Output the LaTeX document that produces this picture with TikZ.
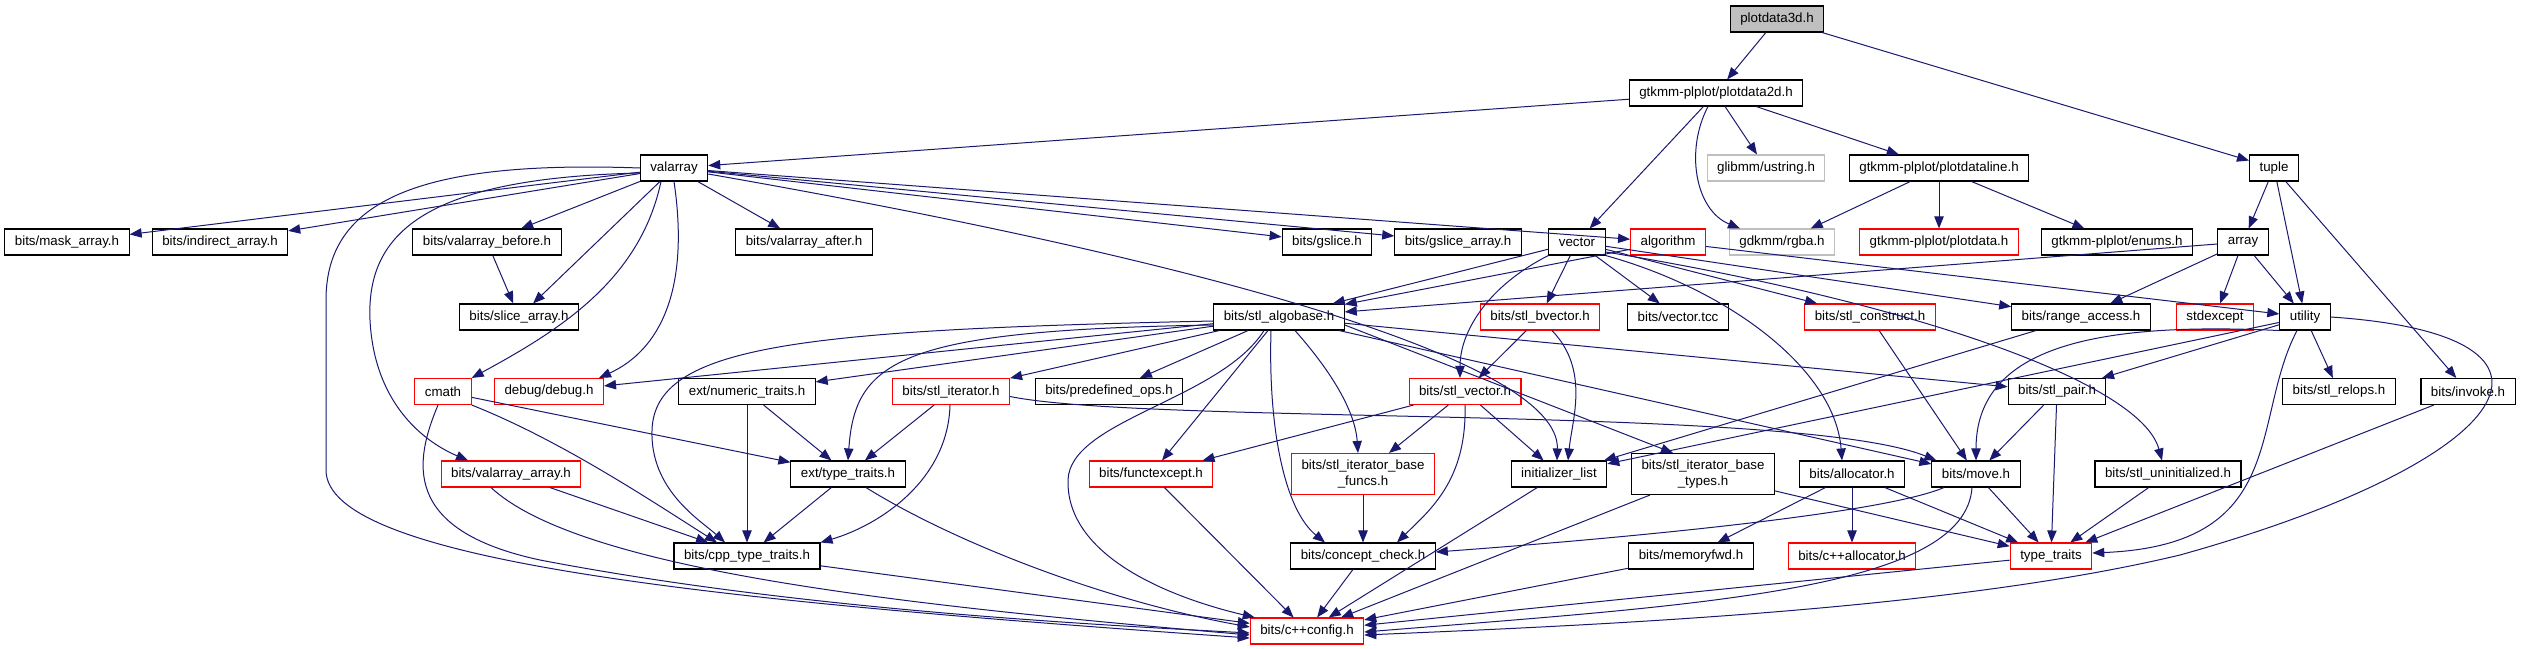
\documentclass[tikz,border=0pt]{standalone}
\usepackage{fontspec}
\setmainfont{Liberation Sans}
\usepackage{tikz}
\usetikzlibrary{arrows.meta}

\definecolor{edgeblue}{HTML}{191970}
\definecolor{nodegray}{HTML}{BFBFBF}

\begin{document}
\begin{tikzpicture}[
    x=0.75pt, y=-0.75pt,
    hdr/.style={rectangle, draw=black, fill=white, line width=0.8pt,
                font=\fontsize{10}{12}\selectfont,
                minimum height=19.5pt, inner xsep=7.5pt, inner ysep=2pt},
    trunc/.style={hdr, draw=red},
    nodoc/.style={hdr, draw=nodegray},
    root/.style={hdr, fill=nodegray},
    twoline/.style={align=center, minimum height=30.75pt},
    arr/.style={-{Triangle[length=9pt, width=7pt]}, draw=edgeblue, line width=0.75pt}
  ]
  \useasboundingbox[fill=white] (0,0) rectangle (2541,649);

  % rows, top to bottom
  \node[root]  (p3d)   at (1777,19)  {plotdata3d.h};
  \node[hdr]   (p2d)   at (1716,93)  {gtkmm-plplot/plotdata2d.h};

  \node[hdr]   (valarr) at (674,168)  {valarray};
  \node[nodoc] (ustr)   at (1766,168) {glibmm/ustring.h};
  \node[hdr]   (pline)  at (1939,168) {gtkmm-plplot/plotdataline.h};
  \node[hdr]   (tuple)  at (2274,168) {tuple};

  \node[hdr]   (mask)    at (67,242)   {bits/mask\_array.h};
  \node[hdr]   (indir)   at (220,242)  {bits/indirect\_array.h};
  \node[hdr]   (vbefore) at (487,242)  {bits/valarray\_before.h};
  \node[hdr]   (vafter)  at (804,242)  {bits/valarray\_after.h};
  \node[hdr]   (gslice)  at (1327,242) {bits/gslice.h};
  \node[hdr]   (gslarr)  at (1458,242) {bits/gslice\_array.h};
  \node[hdr]   (vector)  at (1577,242) {vector};
  \node[trunc] (algo)    at (1668,242) {algorithm};
  \node[nodoc] (rgba)    at (1782,242) {gdkmm/rgba.h};
  \node[trunc] (pdata)   at (1939,242) {gtkmm-plplot/plotdata.h};
  \node[hdr]   (enums)   at (2117,242) {gtkmm-plplot/enums.h};
  \node[hdr]   (array)   at (2243,242) {array};

  \node[hdr]   (slice)     at (519,317)  {bits/slice\_array.h};
  \node[hdr]   (algobase)  at (1279,317) {bits/stl\_algobase.h};
  \node[trunc] (bvector)   at (1540,317) {bits/stl\_bvector.h};
  \node[hdr]   (vtcc)      at (1678,317) {bits/vector.tcc};
  \node[trunc] (construct) at (1870,317) {bits/stl\_construct.h};
  \node[hdr]   (range)     at (2081,317) {bits/range\_access.h};
  \node[trunc] (stdexc)    at (2215,317) {stdexcept};
  \node[hdr]   (utility)   at (2305,317) {utility};

  \node[trunc] (cmath)  at (443,391.5)  {cmath};
  \node[trunc] (debug)  at (549,391.5)  {debug/debug.h};
  \node[hdr]   (numtr)  at (747,391.5)  {ext/numeric\_traits.h};
  \node[trunc] (iter)   at (951,391.5)  {bits/stl\_iterator.h};
  \node[hdr]   (predef) at (1109,391.5) {bits/predefined\_ops.h};
  \node[trunc] (svec)   at (1465,391.5) {bits/stl\_vector.h};
  \node[hdr]   (pair)   at (2057,391.5) {bits/stl\_pair.h};
  \node[hdr]   (relops) at (2339,391.5) {bits/stl\_relops.h};
  \node[hdr]   (invoke) at (2468,391.5) {bits/invoke.h};

  \node[trunc] (varr)    at (511,474)  {bits/valarray\_array.h};
  \node[hdr]   (exttt)   at (848,474)  {ext/type\_traits.h};
  \node[trunc] (fexc)    at (1151,474) {bits/functexcept.h};
  \node[trunc, twoline] (ibfuncs) at (1363,474) {bits/stl\_iterator\_base\\\_funcs.h};
  \node[hdr]   (initl)   at (1559,474) {initializer\_list};
  \node[hdr, twoline]   (ibtypes) at (1703,474) {bits/stl\_iterator\_base\\\_types.h};
  \node[hdr]   (alloc)   at (1852,474) {bits/allocator.h};
  \node[hdr]   (move)    at (1976,474) {bits/move.h};
  \node[hdr]   (uninit)  at (2168,474) {bits/stl\_uninitialized.h};

  \node[hdr]   (cpptt)   at (747,556)  {bits/cpp\_type\_traits.h};
  \node[hdr]   (ccheck)  at (1363,556) {bits/concept\_check.h};
  \node[hdr]   (mfwd)    at (1691,556) {bits/memoryfwd.h};
  \node[trunc] (callo)   at (1852,556) {bits/c++allocator.h};
  \node[trunc] (ttraits) at (2051,556) {type\_traits};

  \node[trunc] (config)  at (1307,631) {bits/c++config.h};

  % straight includes
  \foreach \a/\b in {p3d/p2d, p3d/tuple, p2d/valarr, p2d/vector, p2d/ustr, p2d/pline,
      pline/rgba, pline/pdata, pline/enums, tuple/array, tuple/utility, tuple/invoke,
      array/utility, array/stdexc, array/range, array/algobase,
      valarr/mask, valarr/indir, valarr/vbefore, valarr/slice, valarr/vafter,
      valarr/gslice, valarr/gslarr, valarr/algo, vbefore/slice,
      vector/algobase, vector/bvector, vector/vtcc, vector/construct, vector/range,
      algo/algobase, algo/utility, bvector/svec, construct/move, range/initl,
      utility/relops, utility/pair, utility/initl, invoke/ttraits,
      pair/move, pair/ttraits, uninit/ttraits, move/ttraits,
      alloc/callo, alloc/ttraits, alloc/mfwd, mfwd/config,
      ibtypes/config, ibtypes/ttraits, initl/config, ccheck/config, ibfuncs/ccheck,
      fexc/config, svec/fexc, svec/ibfuncs, svec/initl,
      algobase/fexc, algobase/move, algobase/pair, algobase/debug, algobase/numtr,
      algobase/iter, algobase/predef, numtr/exttt, numtr/cpptt, iter/exttt,
      cmath/exttt, varr/cpptt, exttt/cpptt, cpptt/config, ttraits/config}
    \draw[arr] (\a) -- (\b);

  % bent includes
  \draw[arr] ([shift={(-8,0)}]p2d.south) .. controls (1685,150) and (1695,210) .. ([shift={(-42,0)}]rgba.north);
  \draw[arr] (vector.south east) .. controls (1730,290) and (1835,370) .. ([shift={(-10,0)}]alloc.north);
  \draw[arr] ([shift={(0,10)}]vector.east) .. controls (1900,300) and (2140,380) .. ([shift={(-6,0)}]uninit.north);
  \draw[arr] (vector.south west) .. controls (1490,285) and (1460,330) .. ([shift={(-5,0)}]svec.north);
  \draw[arr] ([shift={(12,0)}]bvector.south) .. controls (1590,370) and (1572,420) .. ([shift={(9,0)}]initl.north);
  \draw[arr] (utility.south west) .. controls (2100,322) and (1976,345) .. (move.north);
  \draw[arr] ([shift={(-8,0)}]utility.south) .. controls (2250,420) and (2290,545) .. ([shift={(0,-3)}]ttraits.east);
  \draw[arr] (utility.east) .. controls (2600,335) and (2520,460) .. (2180,555)
             .. controls (1950,610) and (1600,625) .. ([shift={(0,4)}]config.east);
  \draw[arr] ([shift={(-4,0)}]move.south) .. controls (1965,590) and (1700,605) .. ([shift={(0,1)}]config.east);
  \draw[arr] ([shift={(-32,0)}]move.south) .. controls (1880,515) and (1600,540) .. ([shift={(0,-4)}]ccheck.east);
  \draw[arr] (svec.south) .. controls (1467,480) and (1430,510) .. ([shift={(34,0)}]ccheck.north);
  \draw[arr] ([shift={(-15,0)}]algobase.south) .. controls (1220,400) and (1070,420) .. (1068,480)
             .. controls (1066,560) and (1180,600) .. ([shift={(5,0)}]config.north west);
  \draw[arr] ([shift={(16,0)}]algobase.south) .. controls (1330,370) and (1355,410) .. ([shift={(-5,0)}]ibfuncs.north);
  \draw[arr] ([shift={(0,8)}]algobase.west) .. controls (900,330) and (855,360) .. (exttt.north);
  \draw[arr] ([shift={(0,4)}]algobase.west) .. controls (800,330) and (655,345) .. (652,430)
             .. controls (650,490) and (700,520) .. ([shift={(-22,0)}]cpptt.north);
  \draw[arr] ([shift={(-8,0)}]algobase.south) .. controls (1268,430) and (1285,510) .. ([shift={(-38,0)}]ccheck.north);
  \draw[arr] ([shift={(0,8)}]algobase.east) -- ([shift={(-30,0)}]ibtypes.north);
  \draw[arr] ([shift={(-1,0)}]iter.south) .. controls (948,480) and (880,525) .. (cpptt.north east);
  \draw[arr] ([shift={(0,5)}]iter.east) .. controls (1150,425) and (1800,405) .. ([shift={(5,0)}]move.north west);
  \draw[arr] (cmath.south east) .. controls (560,440) and (650,500) .. ([shift={(-30,0)}]cpptt.north);
  \draw[arr] ([shift={(-5,0)}]cmath.south) .. controls (415,460) and (400,530) .. (540,560)
             .. controls (800,610) and (1100,625) .. ([shift={(0,2)}]config.west);
  \draw[arr] ([shift={(-20,0)}]varr.south) .. controls (580,570) and (900,605) .. ([shift={(0,4)}]config.west);
  \draw[arr] ([shift={(18,0)}]exttt.south) .. controls (950,540) and (1100,600) .. ([shift={(0,-4)}]config.west);
  \draw[arr] (valarr.west) .. controls (420,160) and (326,200) .. (326,300) -- (326,470)
             .. controls (326,560) and (700,600) .. ([shift={(0,7)}]config.west);
  \draw[arr] ([shift={(0,5)}]valarr.west) .. controls (430,178) and (366,230) .. (370,320)
             .. controls (374,400) and (420,440) .. ([shift={(-43,0)}]varr.north);
  \draw[arr] ([shift={(-13,0)}]valarr.south) .. controls (640,280) and (560,330) .. (cmath.north east);
  \draw[arr] (valarr.south) .. controls (690,290) and (660,350) .. ([shift={(-5,0)}]debug.north east);
  \draw[arr] ([shift={(0,6)}]valarr.east) .. controls (1200,260) and (1560,360) .. ([shift={(-2,0)}]initl.north);
\end{tikzpicture}
\end{document}
